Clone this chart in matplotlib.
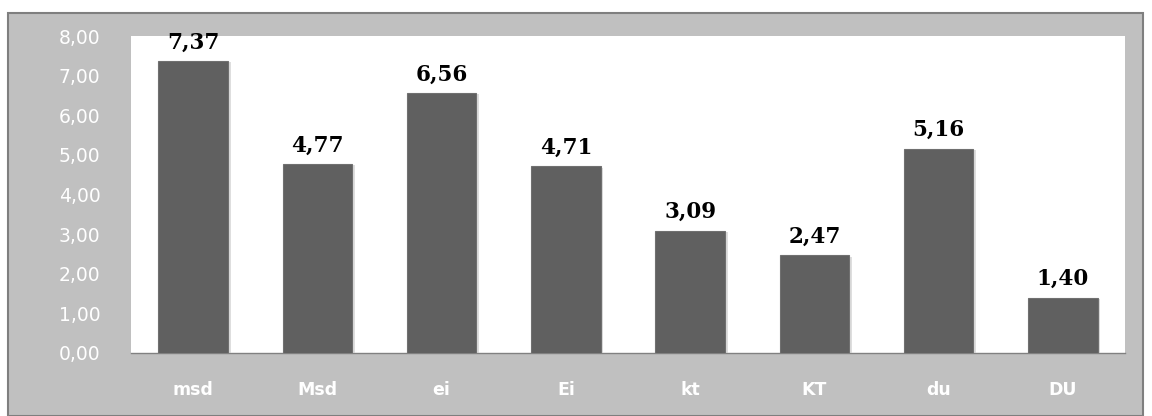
import matplotlib
matplotlib.use("Agg")
import matplotlib.pyplot as plt
from matplotlib.patches import Rectangle
import matplotlib.patheffects as pe

categories = ["msd", "Msd", "ei", "Ei", "kt", "KT", "du", "DU"]
values = [7.37, 4.77, 6.56, 4.71, 3.09, 2.47, 5.16, 1.40]
yticks = [0, 1, 2, 3, 4, 5, 6, 7, 8]

W, H = 1152, 416
fig = plt.figure(figsize=(W / 100, H / 100), dpi=100)
fig.patch.set_facecolor("white")

# gray chart area with border
fig.patches.append(Rectangle((8 / W, 0), (1143 - 8) / W, (H - 13) / H,
                             transform=fig.transFigure, facecolor="#c0c0c0",
                             edgecolor="#7f7f7f", linewidth=1.5, zorder=-1))

ax = fig.add_axes([131 / W, 1 - 353 / H, (1125 - 131) / W, (353 - 36) / H])
ax.set_zorder(2)
ax.set_facecolor("white")
x = range(len(categories))
bars = ax.bar(x, values, width=0.56, color="#606060", edgecolor="#707070",
              linewidth=0.8, zorder=3)
for b in bars:
    b.set_path_effects([pe.SimplePatchShadow(offset=(2, -1), shadow_rgbFace="#c8c8c8", alpha=0.6),
                        pe.Normal()])

for xi, v in zip(x, values):
    ax.text(xi, v + 0.19, f"{v:.2f}".replace(".", ","), ha="center", va="bottom",
            fontsize=15.5, fontweight="bold", family="DejaVu Serif", color="black")

ax.set_ylim(0, 8)
ax.set_xlim(-0.5, len(categories) - 0.5)
ax.set_yticks(yticks)
ax.set_yticklabels([f"{t:.2f}".replace(".", ",") for t in yticks])
ax.set_xticks(list(x))
ax.set_xticklabels(categories)
for lab in ax.get_yticklabels():
    lab.set_color("white")
    lab.set_fontsize(13.5)
    lab.set_family("DejaVu Sans")
for lab in ax.get_xticklabels():
    lab.set_color("white")
    lab.set_fontsize(12.5)
    lab.set_fontweight("bold")
    lab.set_family("DejaVu Sans")
ax.tick_params(axis="y", length=0, pad=22)
ax.tick_params(axis="x", length=0, pad=20)
for s in ["top", "right", "left"]:
    ax.spines[s].set_visible(False)
ax.spines["bottom"].set_color("#808080")
ax.spines["bottom"].set_linewidth(1)

fig.savefig("out.png", dpi=100)
